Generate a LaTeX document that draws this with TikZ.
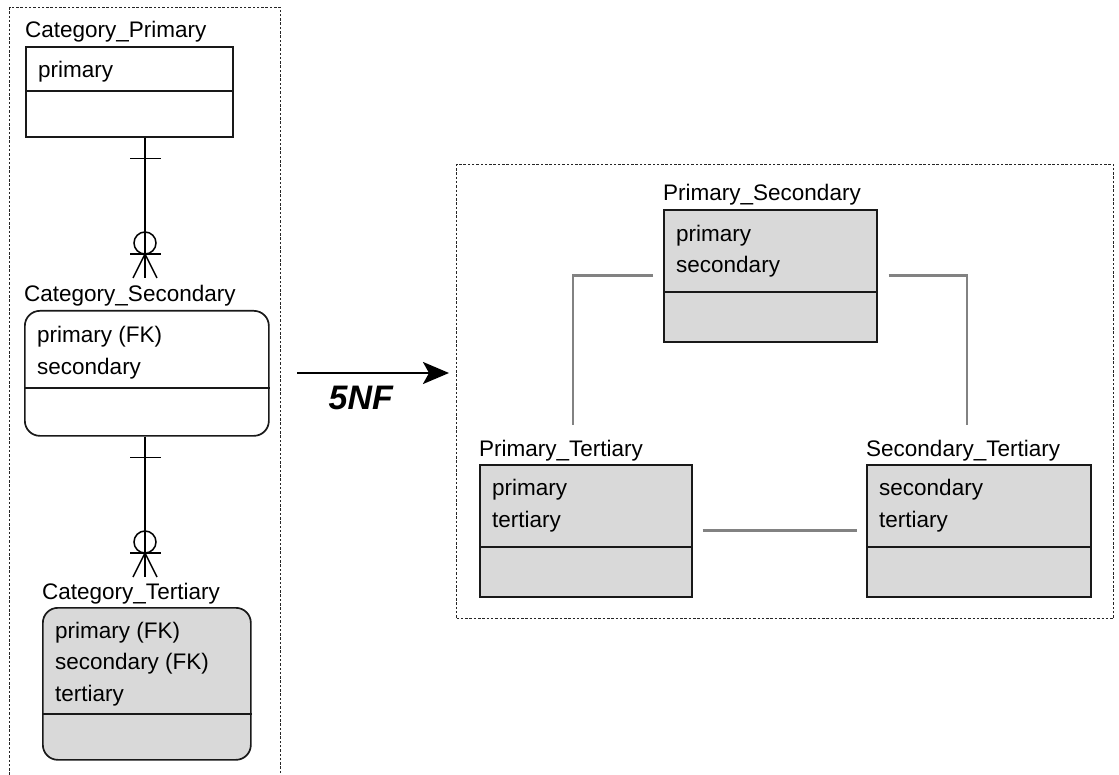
\documentclass[tikz,border=0pt]{standalone}
\usepackage{fontspec}
\setmainfont{Liberation Sans}
\usetikzlibrary{arrows.meta,positioning,calc}
\definecolor{tablefill}{RGB}{217,217,217}
\definecolor{linkgrey}{RGB}{130,130,130}
\tikzset{
  entity/.style={draw=black!90,line width=1.7pt,fill=white,inner sep=0pt,anchor=north west},
  weak/.style={entity,rounded corners=15pt},
  weakfill/.style={weak,fill=tablefill},
  joined/.style={entity,fill=tablefill},
  title/.style={anchor=base west,inner sep=0pt},
  attrs/.style={anchor=base west,inner sep=0pt,align=left},
  divider/.style={draw=black!90,line width=1.7pt},
  erline/.style={draw=black,line width=1.5pt},
  link/.style={draw=linkgrey,line width=2.8pt},
  frame/.style={draw=black!85,line width=1pt,dash pattern=on 2.5pt off 1.8pt,
                inner sep=0pt,anchor=north west},
  conv/.style={-{Stealth[length=26pt,width=22pt,inset=6pt]},line width=2.4pt},
}

\begin{document}
\begin{tikzpicture}[x=1pt,y=-1pt,font=\fontsize{22.5}{31.5}\selectfont]
  \useasboundingbox (0,0) rectangle (1119,775);
  % the two dashed frames: before and after the decomposition
  \node[frame,minimum width=271pt,minimum height=800pt] (before) at (9,7) {};
  \node[frame,minimum width=657pt,minimum height=454pt] (after) at (456,164) {};
  % tables: name/left/top/width/height/divider/style/last baseline/title/columns
  \foreach \n/\x/\y/\w/\h/\d/\s/\b/\t/\a in {
      cp/25/46/207/90/45/entity/32/Category\_Primary/{primary},
      cs/24/310/244/125/78/weak/64/Category\_Secondary/{primary (FK)\\secondary},
      ct/42/607/208/152/107/weakfill/94/Category\_Tertiary/{primary (FK)\\secondary (FK)\\tertiary},
      ps/663/209/213/132/83/joined/64/Primary\_Secondary/{primary\\secondary},
      pt/479/464/212/132/83/joined/63/Primary\_Tertiary/{primary\\tertiary},
      st/866/464/224/132/83/joined/63/Secondary\_Tertiary/{secondary\\tertiary}}{
    \node[\s,minimum width=\w pt,minimum height=\h pt] (\n) at (\x,\y) {};
    \draw[divider] ($(\n.north west)+(0,\d)$) -- ($(\n.north east)+(0,\d)$);
    \node[title] (\n-t) at ($(\n.north west)+(0,-8)$) {\t};
    \node[attrs] (\n-a) at ($(\n.north west)+(13,\b)$) {\a};
  }
  % one-to-many relationships on the left
  \coordinate (c1) at (145,278);
  \coordinate (c2) at (145,577);
  \foreach \a/\b in {cp/c1,cs/c2}{
    \draw[erline] (\b |- \a.south) -- (\b);
    \draw[erline] ($(\b |- \a.south)+(-15,21)$) -- ++(31,0);
    \draw[erline] ($(\b)+(-15,-24)$) -- ++(31,0);
    \draw[erline] ($(\b)+(0,-35)$) circle (11pt);
    \draw[erline] ($(\b)+(-12,0)$) -- ($(\b)+(0,-24)$) -- ($(\b)+(12,0)$);
  }
  % plain links between the 5NF tables
  \coordinate (ps-l) at (573,425);
  \coordinate (ps-r) at (967,425);
  \draw[link] ($(ps.west)+(-10,0)$) -| (ps-l);
  \draw[link] ($(ps.east)+(11,0)$) -| (ps-r);
  \draw[link] ($(pt.east)+(10,0)$) -- ($(st.west)+(-9,0)$);
  % the decomposition arrow
  \coordinate (src) at (297,373);
  \coordinate (dst) at (449,373);
  \draw[conv] (src) -- node[pos=0.42,below=12pt,inner sep=0pt,
    font=\fontsize{34}{34}\selectfont\bfseries\itshape] (nf) {5NF} (dst);
\end{tikzpicture}
\end{document}
